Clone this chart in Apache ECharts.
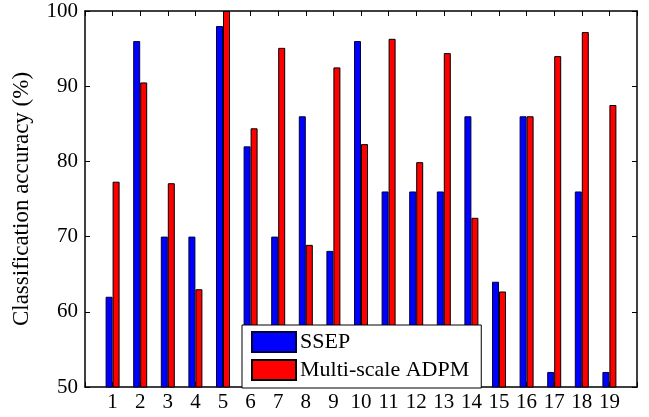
<!DOCTYPE html>
<html>
<head>
<meta charset="utf-8">
<script src="https://cdn.jsdelivr.net/npm/echarts@6/dist/echarts.min.js"></script>
<style>
  html, body { margin: 0; padding: 0; background: #fff; }
  #chart { width: 649px; height: 417px; }
</style>
</head>
<body>
<div id="chart"></div>
<script>
// accuracy per subject
const categories = ['1', '2', '3', '4', '5', '6', '7', '8', '9', '10',
  '11', '12', '13', '14', '15', '16', '17', '18', '19']
const ssep = [62, 96, 70, 70, 98, 82, 70, 86, 68.1, 96,
  76, 76, 76, 86, 64, 86, 52, 76, 52]
const adpm = [77.3, 90.5, 77.1, 63, 100, 84.4, 95.1, 68.9, 92.5, 82.3,
  96.3, 79.9, 94.4, 72.5, 62.7, 86, 94, 97.2, 87.5]
const yTicks = [50, 60, 70, 80, 90, 100]

const font = 'Liberation Serif'
// pad with empty slots at 0 and 20 so the ticks sit on 1..19
const axisData = [''].concat(categories, [''])
const pad = arr => [null].concat(arr, [null])

const chart = echarts.init(document.getElementById('chart'))

const xBase = {
  type: 'category',
  data: axisData,
  boundaryGap: false,
  axisLine: { show: true, lineStyle: { color: '#000', width: 1.5 } },
  axisTick: { show: true, inside: true, length: 5, lineStyle: { color: '#000' } },
  splitLine: { show: false }
}
const yBase = {
  type: 'value',
  min: yTicks[0],
  max: yTicks[yTicks.length - 1],
  interval: 10,
  axisLine: { show: true, lineStyle: { color: '#000', width: 1.5 } },
  axisTick: { show: true, inside: true, length: 5, lineStyle: { color: '#000' } },
  splitLine: { show: false }
}

const option = {
  animation: false,
  grid: { left: 85, right: 12, top: 11, bottom: 30 },
  xAxis: [
    Object.assign({}, xBase, {
      position: 'bottom',
      axisLabel: {
        interval: 0, margin: 5, color: '#000', fontFamily: font, fontSize: 21,
        formatter: v => v
      }
    }),
    Object.assign({}, xBase, { position: 'top', axisLabel: { show: false } })
  ],
  yAxis: [
    Object.assign({}, yBase, {
      position: 'left',
      name: 'Classification accuracy (%)',
      nameLocation: 'middle',
      nameGap: 52,
      nameTextStyle: { color: '#000', fontFamily: font, fontSize: 23 },
      axisLabel: { margin: 7, color: '#000', fontFamily: font, fontSize: 21 }
    }),
    Object.assign({}, yBase, { position: 'right', axisLabel: { show: false } })
  ],
  legend: {
    orient: 'vertical',
    left: 242,
    top: 325,
    padding: [6, 12, 7, 9],
    itemWidth: 44,
    itemHeight: 20,
    itemGap: 6,
    backgroundColor: '#fff',
    borderColor: '#000',
    borderWidth: 1,
    icon: 'rect',
    textStyle: { color: '#000', fontFamily: font, fontSize: 22, padding: [0, 0, 0, -1] },
    data: ['SSEP', 'Multi-scale ADPM']
  },
  series: [
    {
      name: 'SSEP',
      type: 'bar',
      barWidth: 7,
      barGap: '0%',
      data: pad(ssep),
      itemStyle: { color: '#0000ff', borderColor: '#00003a', borderWidth: 1 }
    },
    {
      name: 'Multi-scale ADPM',
      type: 'bar',
      barWidth: 7,
      barGap: '0%',
      data: pad(adpm),
      itemStyle: { color: '#ff0000', borderColor: '#000', borderWidth: 1 }
    }
  ]
}

chart.setOption(option)
</script>
</body>
</html>
